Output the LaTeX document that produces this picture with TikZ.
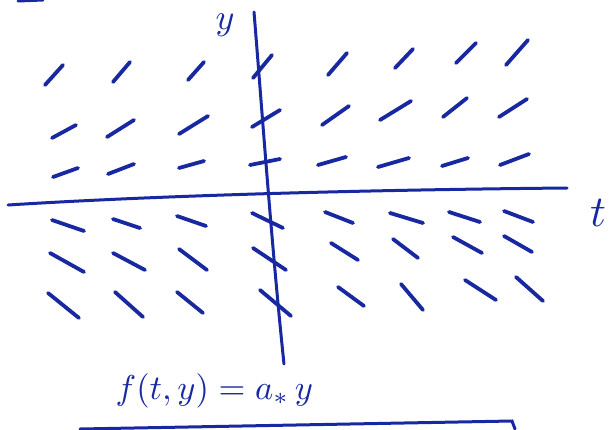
\documentclass[tikz,border=0pt]{standalone}
\usepackage{amsmath}
\definecolor{ink}{RGB}{24,40,160}
\tikzset{
  slopeseg/.style={draw=ink, line width=3.8pt, line cap=round},
  axisline/.style={draw=ink, line width=3pt, line cap=round},
  inklabel/.style={text=ink, inner sep=0pt}
}
\begin{document}
\begin{tikzpicture}[x=1pt,y=-1pt]
\useasboundingbox (0,0) rectangle (616,429);
% top-left fragment
\draw[axisline] (18,1) -- (43,0);
% axes
\coordinate (hL) at (8,205);
\coordinate (hR) at (567,188);
\coordinate (vT) at (254,12);
\coordinate (vB) at (284,364);
\draw[axisline] (hL) .. controls (150,196) and (350,190) .. (hR);
\draw[axisline] (vT) .. controls (262,110) and (272,250) .. (vB);
\node[inklabel, scale=3.6] (ylab) at (225,25) {$y$};
\node[inklabel, scale=4.4] (tlab) at (598,213) {$t$};
% row 1
\draw[slopeseg] (45,85) -- (63,65);
\draw[slopeseg] (113,82) -- (130,62);
\draw[slopeseg] (188,80) -- (204,62);
\draw[slopeseg] (253,78) -- (272,55);
\draw[slopeseg] (328,75) -- (347,53);
\draw[slopeseg] (395,68) -- (413,49);
\draw[slopeseg] (456,63) -- (476,43);
\draw[slopeseg] (506,65) -- (528,40);
% row 2
\draw[slopeseg] (52,138) -- (76,125);
\draw[slopeseg] (107,137) -- (134,120);
\draw[slopeseg] (179,134) -- (208,116);
\draw[slopeseg] (252,127) -- (280,110);
\draw[slopeseg] (322,125) -- (349,106);
\draw[slopeseg] (380,120) -- (411,101);
\draw[slopeseg] (443,117) -- (467,98);
\draw[slopeseg] (499,117) -- (527,99);
% row 3
\draw[slopeseg] (53,177) -- (78,168);
\draw[slopeseg] (108,174) -- (134,164);
\draw[slopeseg] (179,168) -- (204,161);
\draw[slopeseg] (250,165) -- (280,159);
\draw[slopeseg] (318,165) -- (346,157);
\draw[slopeseg] (378,167) -- (409,158);
\draw[slopeseg] (442,166) -- (468,158);
\draw[slopeseg] (500,165) -- (529,154);
% row 4
\draw[slopeseg] (52,220) -- (84,231);
\draw[slopeseg] (113,219) -- (140,228);
\draw[slopeseg] (177,216) -- (206,226);
\draw[slopeseg] (252,213) -- (283,228);
\draw[slopeseg] (325,212) -- (353,223);
\draw[slopeseg] (390,213) -- (423,223);
\draw[slopeseg] (449,212) -- (480,222);
\draw[slopeseg] (504,211) -- (533,222);
% row 5
\draw[slopeseg] (50,253) -- (84,272);
\draw[slopeseg] (113,253) -- (145,270);
\draw[slopeseg] (179,249) -- (207,270);
\draw[slopeseg] (253,248) -- (286,270);
\draw[slopeseg] (331,243) -- (358,260);
\draw[slopeseg] (393,239) -- (418,258);
\draw[slopeseg] (453,237) -- (482,253);
\draw[slopeseg] (504,236) -- (532,252);
% row 6
\draw[slopeseg] (48,293) -- (79,318);
\draw[slopeseg] (115,292) -- (143,317);
\draw[slopeseg] (177,292) -- (203,313);
\draw[slopeseg] (260,290) -- (291,316);
\draw[slopeseg] (338,287) -- (364,306);
\draw[slopeseg] (401,284) -- (423,310);
\draw[slopeseg] (465,280) -- (496,300);
\draw[slopeseg] (516,277) -- (543,301);
% formula
\node[inklabel, scale=3.45, anchor=base west] (formula) at (115,399) {$f(t,y)=a_{*}\,y$};
% bottom box fragment
\coordinate (bL) at (80,429);
\coordinate (bR) at (512,421);
\coordinate (bD) at (515,429);
\draw[axisline] (bL) -- (bR) -- (bD);
\end{tikzpicture}
\end{document}
